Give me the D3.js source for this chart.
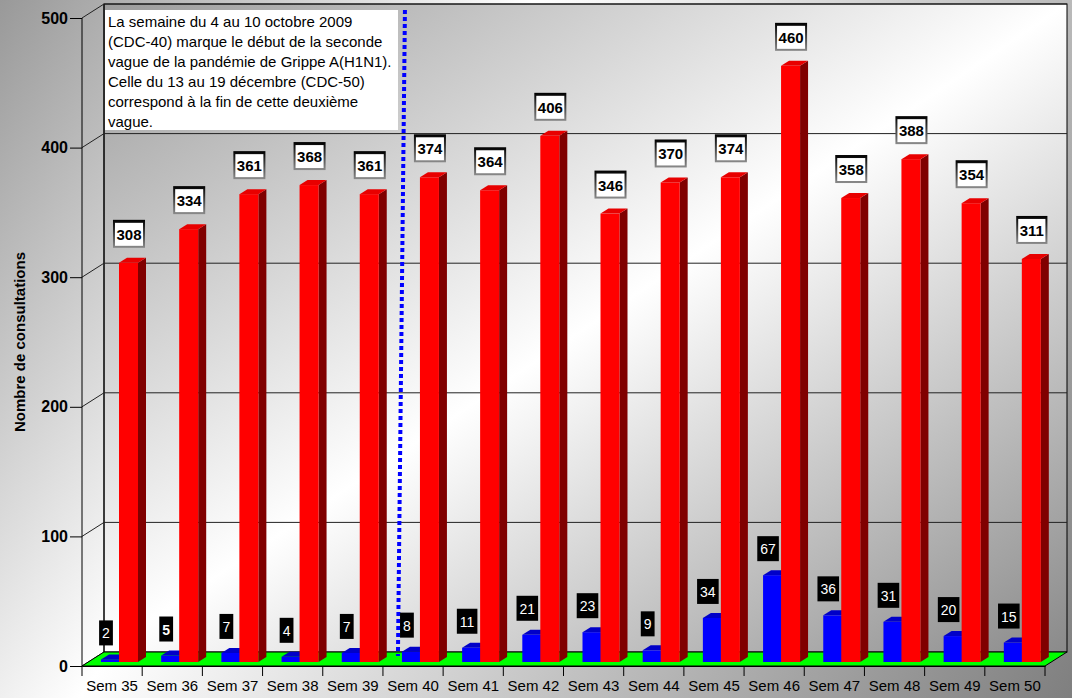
<!DOCTYPE html>
<html>
<head>
<meta charset="utf-8">
<script src="https://cdn.jsdelivr.net/npm/d3@7"></script>
<style>
  html, body { margin: 0; padding: 0; background: #fff; }
  svg { display: block; font-family: "Liberation Sans", Arial, Helvetica, sans-serif; }
</style>
</head>
<body>
<svg id="chart" width="1072" height="698"></svg>
<script>
// ---- data ----
const categories = ["Sem 35","Sem 36","Sem 37","Sem 38","Sem 39","Sem 40","Sem 41","Sem 42",
                    "Sem 43","Sem 44","Sem 45","Sem 46","Sem 47","Sem 48","Sem 49","Sem 50"];
const blueValues = [2, 5, 7, 4, 7, 8, 11, 21, 23, 9, 34, 67, 36, 31, 20, 15];
const redValues  = [308, 334, 361, 368, 361, 374, 364, 406, 346, 370, 374, 460, 358, 388, 354, 311];
const yTicks = [0, 100, 200, 300, 400, 500];
const yTitle = "Nombre de consultations";
const noteLines = [
  "La semaine du 4 au 10 octobre 2009",
  "(CDC-40) marque le début de la seconde",
  "vague de la pandémie de Grippe A(H1N1).",
  "Celle du 13 au 19 décembre (CDC-50)",
  "correspond à la fin de cette deuxième",
  "vague."
];
const markerCategory = "Sem 40";

// ---- layout ----
const svg = d3.select("#chart");
const W = 1072, H = 698;
const x = d3.scaleBand().domain(categories).range([82, 1045]).paddingInner(0).paddingOuter(0);
const y = d3.scaleLinear().domain([0, 500]).range([666, 18]);
const DX = 22, DY = -14;          // wall depth
const BDX = 8, BDY = -5;          // bar depth
const BASE_SHIFT = -4;            // bars sit slightly behind the front edge
const BAR_W = 19;

const defs = svg.append("defs");
const g1 = defs.append("linearGradient").attr("id", "bgOuter")
  .attr("gradientUnits", "userSpaceOnUse").attr("x1", 0).attr("y1", 0).attr("x2", W).attr("y2", H);
g1.append("stop").attr("offset", 0).attr("stop-color", "#999999");
g1.append("stop").attr("offset", 0.35).attr("stop-color", "#ffffff");
g1.append("stop").attr("offset", 1).attr("stop-color", "#7f7f7f");
const g2 = defs.append("linearGradient").attr("id", "bgWall")
  .attr("x1", 0).attr("y1", 0).attr("x2", 1).attr("y2", 1);
g2.append("stop").attr("offset", 0).attr("stop-color", "#9c9c9c");
g2.append("stop").attr("offset", 0.5).attr("stop-color", "#ffffff");
g2.append("stop").attr("offset", 1).attr("stop-color", "#8a8a8a");
const g3 = defs.append("linearGradient").attr("id", "lblBorder")
  .attr("x1", 0).attr("y1", 0).attr("x2", 0).attr("y2", 1);
g3.append("stop").attr("offset", 0).attr("stop-color", "#000000");
g3.append("stop").attr("offset", 1).attr("stop-color", "#8a8a8a");

svg.append("rect").attr("width", W).attr("height", H).attr("fill", "url(#bgOuter)");

const x0 = x.range()[0], x1 = x.range()[1];
const yTop = y(500), yBot = y(0);

// back wall
svg.append("rect")
  .attr("x", x0 + DX).attr("y", yTop + DY)
  .attr("width", x1 - x0).attr("height", yBot - yTop)
  .attr("fill", "url(#bgWall)").attr("stroke", "#000").attr("stroke-width", 1);

// side wall lines
svg.append("line").attr("x1", x0 + DX).attr("y1", yTop + DY).attr("x2", x0 + DX).attr("y2", yBot + DY)
  .attr("stroke", "#000");

// gridlines on back wall + side wall
yTicks.forEach(v => {
  const yy = y(v);
  if (v > 0) {
    svg.append("line").attr("x1", x0 + DX).attr("x2", x1 + DX).attr("y1", yy + DY).attr("y2", yy + DY)
      .attr("stroke", "#222").attr("stroke-width", 1);
  }
  svg.append("line").attr("x1", x0).attr("y1", yy).attr("x2", x0 + DX).attr("y2", yy + DY)
    .attr("stroke", "#222").attr("stroke-width", 1);
});

// floor
svg.append("polygon")
  .attr("points", [[x0, yBot], [x1, yBot], [x1 + DX, yBot + DY], [x0 + DX, yBot + DY]].map(p => p.join(",")).join(" "))
  .attr("fill", "#00ff00").attr("stroke", "#000").attr("stroke-width", 1);

// front y axis
const yAxisG = svg.append("g").attr("transform", `translate(${x0},0)`)
  .call(d3.axisLeft(y).tickValues(yTicks).tickSize(12).tickPadding(2).tickFormat(d3.format("d")));
yAxisG.select(".domain").attr("stroke", "#000").attr("d", `M0,${yTop}V${yBot}`);
yAxisG.selectAll(".tick line").attr("stroke", "#000");
yAxisG.selectAll(".tick text").attr("font-size", 16).attr("font-weight", "bold")
  .attr("fill", "#000").attr("font-family", "Liberation Sans, Arial, sans-serif");

// x axis
const xAxisG = svg.append("g").attr("transform", `translate(0,${yBot})`)
  .call(d3.axisBottom(x).tickSize(0).tickPadding(14));
xAxisG.select(".domain").attr("stroke", "#000");
xAxisG.selectAll(".tick text").attr("font-size", 15).attr("fill", "#000")
  .attr("font-family", "Liberation Sans, Arial, sans-serif");
// band boundary ticks
const bounds = categories.map(c => x(c)).concat([x1]);
svg.selectAll(".xb").data(bounds).enter().append("line")
  .attr("x1", d => d).attr("x2", d => d).attr("y1", yBot).attr("y2", yBot + 10)
  .attr("stroke", "#000");

// y title
svg.append("text")
  .attr("transform", `translate(25,${(yTop + yBot) / 2}) rotate(-90)`)
  .attr("text-anchor", "middle").attr("font-size", 15).attr("font-weight", "bold")
  .attr("fill", "#000").text(yTitle);

// bars
function bar3d(g, bx, v, front, top, side) {
  const t = y(v) + BASE_SHIFT, b = y(0) + BASE_SHIFT;
  g.append("polygon")
    .attr("points", [[bx + BAR_W, t], [bx + BAR_W + BDX, t + BDY], [bx + BAR_W + BDX, b + BDY], [bx + BAR_W, b]].map(p => p.join(",")).join(" "))
    .attr("fill", side);
  g.append("rect").attr("x", bx).attr("y", t).attr("width", BAR_W).attr("height", b - t).attr("fill", front);
  g.append("polygon")
    .attr("points", [[bx, t], [bx + BDX, t + BDY], [bx + BAR_W + BDX, t + BDY], [bx + BAR_W, t]].map(p => p.join(",")).join(" "))
    .attr("fill", top);
}
const barsG = svg.append("g");
categories.forEach((c, i) => {
  const g = barsG.append("g");
  bar3d(g, x(c) + 19, blueValues[i], "#0000ff", "#0000c8", "#000090");
  bar3d(g, x(c) + 37, redValues[i], "#ff0000", "#e80000", "#800000");
});

// dotted marker line
const mx = x(markerCategory) + 22;
svg.append("line").attr("x1", mx).attr("y1", 10).attr("x2", mx - 7).attr("y2", 656)
  .attr("stroke", "#0000ff").attr("stroke-width", 4).attr("stroke-dasharray", "4,3");

// annotation box
const note = svg.append("g");
note.append("rect").attr("x", 105).attr("y", 10).attr("width", 293).attr("height", 120).attr("fill", "#fff");
note.append("text").attr("font-size", 15).attr("fill", "#000")
  .selectAll("tspan").data(noteLines).enter().append("tspan")
  .attr("x", 108).attr("y", (d, i) => 27 + i * 20).text(d => d);

// value labels
const lblG = svg.append("g");
categories.forEach((c, i) => {
  // red labels (white boxes)
  const rv = redValues[i];
  const rcx = x(c) + 47;
  const rBottom = y(rv) + BASE_SHIFT - 15;
  const rg = lblG.append("g");
  const rt = rg.append("text").attr("x", rcx).attr("y", rBottom - 8)
    .attr("text-anchor", "middle").attr("font-size", 15).attr("font-weight", "bold").attr("fill", "#000").text(rv);
  const rw = rt.node().getComputedTextLength() + 7, rh = 28;
  rg.insert("rect", "text").attr("x", rcx - rw / 2).attr("y", rBottom - rh).attr("width", rw).attr("height", rh)
    .attr("fill", "url(#lblBorder)");
  rg.insert("rect", "text").attr("x", rcx - rw / 2 + 2).attr("y", rBottom - rh + 3).attr("width", rw - 4).attr("height", rh - 5)
    .attr("fill", "#fff");

  // blue labels (black boxes)
  const bv = blueValues[i];
  const bcx = x(c) + 24;
  const bBottom = y(bv) + BASE_SHIFT - 14;
  const bg = lblG.append("g");
  const bt = bg.append("text").attr("x", bcx).attr("y", bBottom - 7)
    .attr("text-anchor", "middle").attr("font-size", 14).attr("font-weight", i === 1 ? "bold" : "normal")
    .attr("fill", "#fff").text(bv);
  const bw = bt.node().getComputedTextLength() + 6, bh = 25;
  bg.insert("rect", "text").attr("x", bcx - bw / 2).attr("y", bBottom - bh).attr("width", bw).attr("height", bh)
    .attr("fill", "#000");
});
</script>
</body>
</html>
